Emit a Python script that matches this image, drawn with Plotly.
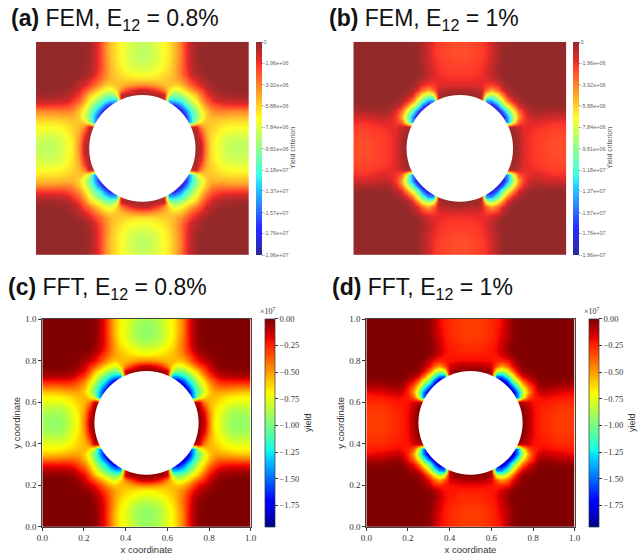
import plotly.graph_objects as go

W, H = 638, 556
GRID_STEP = 0.025
HOLE_FILL_08 = 3
HOLE_FILL_10 = 2

# |yield| in units of 1e5: rows are distance from centre
# in y (0.175 .. 0.5), entries are distance from centre in x (0 .. row distance).
FIELD_A = [
    [3, 3, 3, 3, 3, 150, 190, 190],
    [3, 3, 3, 3, 25, 170, 180, 155, 125],
    [3, 3, 3, 3, 12, 140, 135, 122, 105, 85],
    [3, 3, 4, 5, 10, 85, 100, 95, 80, 68, 56],
    [10, 12, 18, 26, 42, 62, 78, 72, 62, 50, 36, 26],
    [42, 43, 46, 50, 54, 56, 60, 56, 46, 32, 22, 14, 9],
    [64, 64, 63, 61, 59, 57, 52, 44, 33, 22, 13, 7, 3, 1],
    [72, 72, 70, 67, 63, 59, 52, 40, 27, 14, 7, 3, 1, 0, 0],
    [78, 78, 76, 72, 67, 62, 52, 39, 24, 12, 5, 2, 0, 0, 0, 0],
    [83, 82, 80, 75, 69, 63, 53, 40, 23, 11, 4, 1, 0, 0, 0, 0, 0],
    [86, 85, 82, 77, 70, 64, 54, 41, 23, 10, 3, 0, 0, 0, 0, 0, 0, 0],
    [86, 85, 82, 77, 70, 64, 54, 41, 23, 10, 3, 0, 0, 0, 0, 0, 0, 0, 0],
    [85, 84, 81, 76, 70, 64, 54, 41, 23, 10, 3, 0, 0, 0, 0, 0, 0, 0, 0, 0],
    [84, 83, 80, 75, 70, 64, 54, 41, 23, 10, 3, 0, 0, 0, 0, 0, 0, 0, 0, 0, 0],
]
FIELD_C = [
    [3, 3, 3, 3, 3, 150, 190, 190],
    [3, 3, 3, 3, 25, 170, 180, 155, 125],
    [3, 3, 3, 3, 15, 140, 135, 122, 105, 85],
    [3, 3, 4, 5, 12, 85, 100, 95, 80, 68, 55],
    [12, 14, 20, 30, 45, 62, 78, 72, 62, 48, 34, 24],
    [44, 45, 48, 52, 56, 55, 60, 55, 45, 30, 20, 13, 8],
    [68, 67, 65, 63, 60, 57, 52, 44, 33, 21, 12, 6, 3, 1],
    [76, 75, 73, 70, 65, 60, 52, 40, 26, 13, 6, 2, 1, 0, 0],
    [84, 83, 80, 76, 70, 64, 53, 39, 23, 11, 4, 1, 0, 0, 0, 0],
    [90, 89, 86, 81, 73, 67, 55, 40, 22, 10, 3, 0, 0, 0, 0, 0, 0],
    [93, 92, 89, 83, 75, 69, 57, 41, 22, 9, 2, 0, 0, 0, 0, 0, 0, 0],
    [93, 92, 89, 83, 75, 69, 58, 42, 22, 9, 2, 0, 0, 0, 0, 0, 0, 0, 0],
    [92, 91, 88, 82, 74, 69, 58, 42, 22, 9, 2, 0, 0, 0, 0, 0, 0, 0, 0, 0],
    [90, 89, 86, 80, 74, 69, 58, 42, 22, 9, 2, 0, 0, 0, 0, 0, 0, 0, 0, 0, 0],
]
FIELD_B = [
    [2, 2, 2, 2, 2, 170, 190, 192],
    [2, 2, 2, 2, 10, 170, 190, 155, 105],
    [2, 2, 2, 2, 8, 150, 145, 110, 75, 38],
    [1, 1, 1, 2, 6, 75, 90, 70, 40, 14, 4],
    [5, 6, 7, 8, 11, 32, 48, 34, 16, 6, 1, 0],
    [16, 16, 16, 16, 18, 21, 23, 18, 8, 2, 0, 0, 0],
    [20, 20, 20, 19, 18, 17, 13, 7, 2, 0, 0, 0, 0, 0],
    [22, 22, 22, 21, 19, 16, 10, 4, 1, 0, 0, 0, 0, 0, 0],
    [23, 23, 23, 22, 20, 16, 10, 4, 1, 0, 0, 0, 0, 0, 0, 0],
    [25, 25, 24, 23, 21, 18, 12, 5, 1, 0, 0, 0, 0, 0, 0, 0, 0],
    [26, 26, 25, 24, 22, 19, 13, 6, 1, 0, 0, 0, 0, 0, 0, 0, 0, 0],
    [27, 27, 26, 25, 23, 20, 13, 6, 1, 0, 0, 0, 0, 0, 0, 0, 0, 0, 0],
    [27, 27, 26, 25, 23, 20, 13, 6, 1, 0, 0, 0, 0, 0, 0, 0, 0, 0, 0, 0],
    [26, 26, 25, 24, 22, 19, 13, 6, 1, 0, 0, 0, 0, 0, 0, 0, 0, 0, 0, 0, 0],
]
FIELD_D = [
    [2, 2, 2, 2, 2, 170, 190, 192],
    [2, 2, 2, 2, 10, 170, 190, 155, 105],
    [2, 2, 2, 2, 10, 150, 145, 110, 75, 38],
    [1, 1, 2, 3, 10, 75, 90, 70, 40, 16, 5],
    [8, 9, 10, 12, 16, 35, 50, 38, 20, 8, 2, 0],
    [19, 19, 19, 20, 21, 24, 26, 23, 12, 4, 1, 0, 0],
    [23, 23, 23, 22, 22, 21, 16, 9, 3, 0, 0, 0, 0, 0],
    [26, 26, 26, 24, 22, 19, 12, 5, 1, 0, 0, 0, 0, 0, 0],
    [27, 27, 26, 25, 23, 20, 14, 6, 1, 0, 0, 0, 0, 0, 0, 0],
    [29, 29, 28, 27, 25, 21, 15, 8, 2, 0, 0, 0, 0, 0, 0, 0, 0],
    [30, 30, 29, 28, 26, 22, 17, 9, 3, 0, 0, 0, 0, 0, 0, 0, 0, 0],
    [30, 30, 29, 28, 26, 22, 18, 10, 3, 0, 0, 0, 0, 0, 0, 0, 0, 0, 0],
    [30, 30, 29, 28, 26, 23, 19, 10, 3, 0, 0, 0, 0, 0, 0, 0, 0, 0, 0, 0],
    [30, 30, 29, 28, 26, 23, 19, 10, 3, 0, 0, 0, 0, 0, 0, 0, 0, 0, 0, 0, 0],
]
FIRST_ROW = 7

FEM_TICKS = [0, -1.96e6, -3.92e6, -5.88e6, -7.84e6, -9.81e6, -1.18e7, -1.37e7, -1.57e7, -1.76e7, -1.96e7]
FEM_LABELS = ["0", "-1.96e+06", "-3.92e+06", "-5.88e+06", "-7.84e+06", "-9.81e+06",
              "-1.18e+07", "-1.37e+07", "-1.57e+07", "-1.76e+07", "-1.96e+07"]
FFT_TICKS = [0, -0.25e7, -0.5e7, -0.75e7, -1.0e7, -1.25e7, -1.5e7, -1.75e7]
FFT_LABELS = ["0.00", "\u22120.25", "\u22120.50", "\u22120.75", "\u22121.00", "\u22121.25", "\u22121.50", "\u22121.75"]
AXIS_TICKS = [0, 0.2, 0.4, 0.6, 0.8, 1.0]
AXIS_LABELS = ["0.0", "0.2", "0.4", "0.6", "0.8", "1.0"]

JET = [
    (0.0, (0, 0, 128)), (0.11, (0, 0, 255)), (0.125, (0, 0, 255)), (0.34, (0, 217, 255)),
    (0.375, (22, 255, 225)), (0.5, (124, 255, 122)), (0.64, (251, 255, 0)), (0.66, (255, 236, 0)),
    (0.89, (255, 18, 0)), (0.91, (228, 0, 0)), (1.0, (128, 0, 0)),
]


def scale(fade):
    out = []
    for pos, rgb in JET:
        c = [round(v + (255 - v) * fade) for v in rgb]
        out.append([pos, f"rgb({c[0]},{c[1]},{c[2]})"])
    return out


def field(rows, fill):
    n = 41
    z = []
    for r in range(n):
        dy = abs(r - 20)
        line = []
        for c in range(n):
            dx = abs(c - 20)
            a, b = max(dx, dy), min(dx, dy)
            line.append(-(rows[a - FIRST_ROW][b] if a >= FIRST_ROW else fill) * 1e5)
        z.append(line)
    return z


coords = [round(i * GRID_STEP, 3) for i in range(41)]


def px(x0, x1):
    return [x0 / W, x1 / W]


def py(y0, y1):
    return [1 - y1 / H, 1 - y0 / H]


panels = [
    dict(rows=FIELD_A, fill=HOLE_FILL_08, dx=(36, 248.7), dy=(41.8, 255), cb=(256, 5.7), fem=True, t="(a)", s=" FEM, E<sub>12</sub> = 0.8%", tx=9, ty=19, cbt=("Yield criterion", 292, 148)),
    dict(rows=FIELD_B, fill=HOLE_FILL_10, dx=(353.3, 566.3), dy=(41.8, 255), cb=(573.3, 6), fem=True, t="(b)", s=" FEM, E<sub>12</sub> = 1%", tx=327, ty=19, cbt=("Yield criterion", 609, 148)),
    dict(rows=FIELD_C, fill=HOLE_FILL_08, dx=(42.3, 250.7), dy=(319, 526.7), cb=(264.7, 10.3), fem=False, t="(c)", s=" FFT, E<sub>12</sub> = 0.8%", tx=6, ty=288, cbt=("yield", 308, 423)),
    dict(rows=FIELD_D, fill=HOLE_FILL_10, dx=(366.3, 574.7), dy=(319, 526.7), cb=(588.7, 10.3), fem=False, t="(d)", s=" FFT, E<sub>12</sub> = 1%", tx=330, ty=288, cbt=("yield", 632, 423)),
]

fig = go.Figure()
annotations = []
shapes = []
axes = {}
for i, p in enumerate(panels, start=1):
    suffix = "" if i == 1 else str(i)
    top, bottom = p["dy"]
    fem = p["fem"]
    if fem:
        cbar = dict(
            x=p["cb"][0] / W, xanchor="left", xpad=0, ypad=0, thickness=p["cb"][1], thicknessmode="pixels",
            y=1 - bottom / H, yanchor="bottom", len=(bottom - top) / H, lenmode="fraction",
            tickvals=FEM_TICKS, ticktext=FEM_LABELS, ticks="outside", ticklen=1, tickwidth=0.5, tickcolor="#888",
            tickfont=dict(family="Liberation Sans", size=5.5, color="#666"), outlinewidth=0,
        )
    else:
        cbar = dict(
            x=p["cb"][0] / W, xanchor="left", xpad=0, ypad=0, thickness=p["cb"][1], thicknessmode="pixels",
            y=1 - bottom / H, yanchor="bottom", len=(bottom - top) / H, lenmode="fraction",
            tickvals=FFT_TICKS, ticktext=FFT_LABELS, ticks="outside", ticklen=3, tickwidth=0.7, tickcolor="#333",
            tickfont=dict(family="Liberation Serif", size=8.5, color="#333"), outlinewidth=0.7, outlinecolor="#333",
        )
        annotations.append(dict(
            xref="paper", yref="paper", x=(p["cb"][0] + 3) / W, y=1 - (top - 1) / H, xanchor="center", yanchor="bottom",
            text="\u00d710<sup>7</sup>", showarrow=False, font=dict(family="Liberation Serif", size=8, color="#333"),
        ))
    cbt_text, cbt_x, cbt_y = p["cbt"]
    annotations.append(dict(
        xref="paper", yref="paper", x=cbt_x / W, y=1 - cbt_y / H, xanchor="center", yanchor="middle", textangle=-90,
        text=cbt_text, showarrow=False,
        font=dict(family="Liberation Sans", size=7 if fem else 9, color="#555" if fem else "#333"),
    ))
    fig.add_trace(go.Heatmap(
        x=coords, y=coords, z=field(p["rows"], p["fill"]), zsmooth="best",
        zmin=-1.96e7 if fem else -1.95e7, zmax=0, colorscale=scale(0.16 if fem else 0.0),
        colorbar=cbar, xaxis=f"x{suffix}", yaxis=f"y{suffix}", hoverinfo="skip",
    ))
    common = dict(range=[0, 1], tickvals=AXIS_TICKS, ticktext=AXIS_LABELS, ticks="outside", ticklen=3, tickwidth=0.7,
                  tickcolor="#333", showgrid=False, zeroline=False, showline=True, linewidth=0.8, linecolor="#444", mirror=True,
                  tickfont=dict(family="Liberation Serif", size=9, color="#333"))
    xa = dict(common, domain=px(*p["dx"]), anchor=f"y{suffix}")
    ya = dict(common, domain=py(top, bottom), anchor=f"x{suffix}")
    if fem:
        xa = dict(domain=px(*p["dx"]), anchor=f"y{suffix}", range=[0, 1], visible=False)
        ya = dict(domain=py(top, bottom), anchor=f"x{suffix}", range=[0, 1], visible=False)
    else:
        xa["title"] = dict(text="x coordinate", standoff=3, font=dict(family="Liberation Sans", size=9.5, color="#333"))
        ya["title"] = dict(text="y coordinate", standoff=3, font=dict(family="Liberation Sans", size=9.5, color="#333"))
    axes[f"xaxis{suffix}"] = xa
    axes[f"yaxis{suffix}"] = ya
    shapes.append(dict(type="circle", xref=f"x{suffix}", yref=f"y{suffix}", x0=0.25, x1=0.75, y0=0.25, y1=0.75,
                       fillcolor="white", line=dict(width=0), layer="above"))
    annotations.append(dict(
        xref="paper", yref="paper", x=p["tx"] / W, y=1 - p["ty"] / H, xanchor="left", yanchor="middle", showarrow=False,
        text=f"<b>{p['t']}</b>{p['s']}", font=dict(family="Liberation Sans", size=23, color="#111"),
    ))

fig.update_layout(width=W, height=H, margin=dict(l=0, r=0, t=0, b=0, autoexpand=False), paper_bgcolor="white", plot_bgcolor="white",
                  annotations=annotations, shapes=shapes, showlegend=False, **axes)
fig.write_html("out.html", post_script="document.body.style.margin='0';", config=dict(displayModeBar=False))
